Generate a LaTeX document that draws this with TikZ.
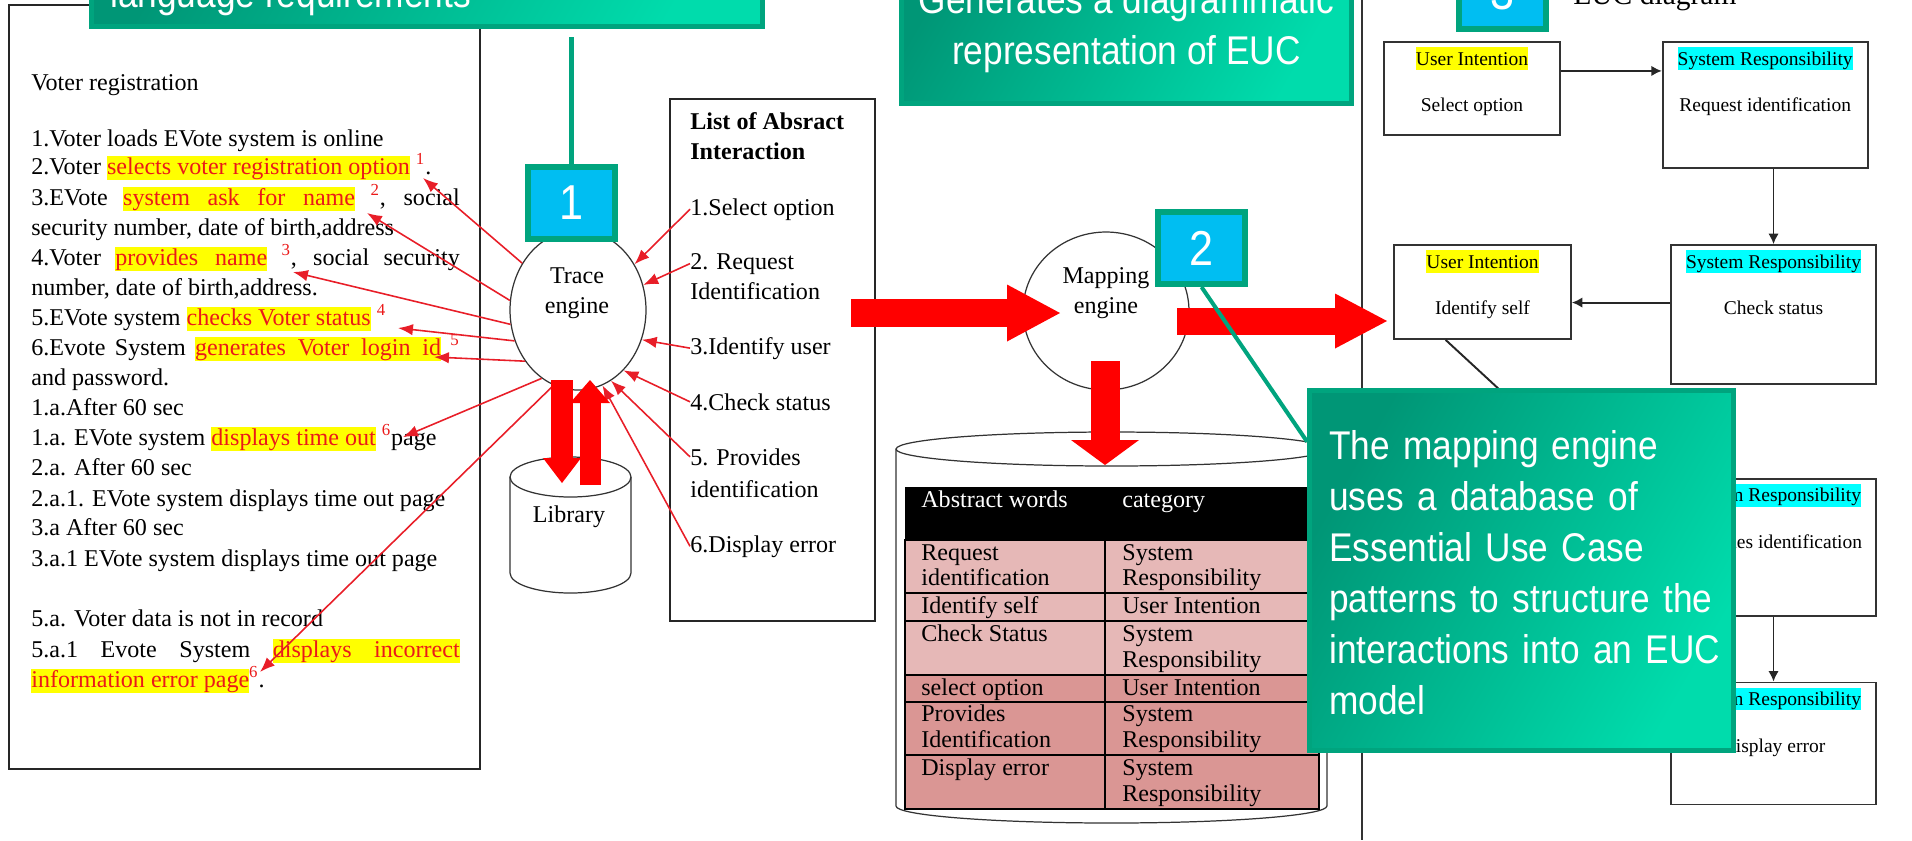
\documentclass[tikz,border=0pt]{standalone}
\usepackage{fontspec}
\setmainfont{Liberation Serif}
\newfontfamily\calloutfont{Liberation Sans}[FakeStretch=0.88]
\usetikzlibrary{shapes.geometric, arrows.meta, positioning}

\definecolor{markred}{RGB}{235,25,25}
\definecolor{hlyellow}{RGB}{255,255,0}
\definecolor{hlcyan}{RGB}{0,255,255}
\definecolor{linkred}{RGB}{232,30,40}
\definecolor{blockred}{RGB}{255,0,0}
\definecolor{calloutedge}{RGB}{0,164,126}
\definecolor{calloutdark}{RGB}{0,150,118}
\definecolor{calloutlight}{RGB}{0,220,172}
\definecolor{numblue}{RGB}{0,190,242}
\definecolor{rowlight}{RGB}{230,184,183}
\definecolor{rowdark}{RGB}{218,150,148}

\newcommand{\docsize}{\fontsize{13.7}{17}\selectfont}
\newcommand{\eucsize}{\fontsize{11.1}{26.7}\selectfont}
\newcommand{\callsize}{\calloutfont\fontsize{22.8}{29}\selectfont}
\newcommand{\numsize}{\calloutfont\fontsize{27.9}{32}\selectfont}

% marked phrase: red on yellow, optionally stretched to a width
\newcommand{\marktext}[2][]{{\setlength{\fboxsep}{0pt}\colorbox{hlyellow}{\rule[-0.25em]{0pt}{1em}\textcolor{markred}{\ifx&#1&#2\else\makebox[#1][s]{#2}\fi}}}}
\newcommand{\refmark}[1]{\textcolor{markred}{\textsuperscript{#1}}}
\newcommand{\fullline}[1]{\makebox[8.57cm][s]{#1}}
\newcommand{\hlbox}[2]{{\setlength{\fboxsep}{0pt}\colorbox{#1}{\rule[-0.25em]{0pt}{1.15em}#2}}}
\newcommand{\fullrow}[1]{\makebox[7.7cm][s]{\strut #1}}

\tikzset{
  >={Latex[length=8.5pt, width=6.5pt]}, % filled heads for the thin trace arrows
  doc text/.style={inner sep=0pt, anchor=base west, font=\docsize}, % one printed line
  plain box/.style={draw=black!85, line width=0.85pt},
  engine/.style={draw=black!80, line width=0.7pt, fill=white},
  trace link/.style={->, draw=linkred, line width=0.9pt},
  big arrow/.style n args={3}{draw=blockred, line width=#1, -{Triangle[length=#2, width=#3, line width=0pt]}},
  note box/.style={draw=calloutedge, line width=2.8pt, left color=calloutdark, right color=calloutlight, shading angle=60},
  callout text/.style={inner sep=0pt, text=white, font=\callsize},
  callout link/.style={draw=calloutedge, line width=2.3pt},
  num box/.style={draw=calloutedge, line width=3.4pt, fill=numblue, text=white, font=\numsize,
    inner sep=0pt, minimum width=1.74cm, minimum height=1.44cm},
  euc box/.style={draw=black!80, line width=1pt, fill=white, inner sep=0pt, minimum width=4.1cm},
  euc label/.style={inner sep=0pt, align=center, font=\eucsize, anchor=north, yshift=-3.4pt},
  euc link/.style={draw=black!85, line width=1.1pt, -{Latex[length=6pt, width=6pt]}},
}

\begin{document}
\begin{tikzpicture}[x=0.02cm, y=-0.02cm]
  \useasboundingbox (0,0) rectangle (1912,840);
  \clip (0,0) rectangle (1912,840);

  % the use case text
  \node[plain box, minimum width=9.42cm, minimum height=15.28cm] (voterbox) at (244.5,387) {};
  \foreach \ly/\ltxt in {
      90/{Voter registration},
      146/{1.Voter loads EVote system is online},
      174/{2.Voter \marktext{selects voter registration option} \refmark{1}.},
      205/{\fullline{3.EVote \marktext[4.64cm]{system ask for name} \refmark{2}, social}},
      235/{security number, date of birth,address},
      265/{\fullline{4.Voter \marktext[3.04cm]{provides name} \refmark{3}, social security}},
      295/{number, date of birth,address.},
      325/{5.EVote system \marktext{checks Voter status} \refmark{4}},
      355/{\fullline{6.Evote System \marktext[4.92cm]{generates Voter login id} \refmark{5}}},
      385/{and password.},
      415/{1.a.After 60 sec},
      445/{1.a. EVote system \marktext{displays time out} \refmark{6}page},
      475/{2.a. After 60 sec},
      506/{2.a.1. EVote system displays time out page},
      535/{3.a After 60 sec},
      566/{3.a.1 EVote system displays time out page},
      626/{5.a. Voter data is not in record},
      657/{\fullline{5.a.1 Evote System \marktext[3.74cm]{displays incorrect}}},
      687/{\marktext{information error page}\refmark{6}.}}
    \node[doc text] (v\ly) at (31,\ly) {\ltxt};

  \node[note box, minimum width=13.42cm, minimum height=2.13cm] (langcall) at (427,-27) {};
  \node[callout text, anchor=base west] (langtxt) at (110,7) {language requirements};

  % abstract interactions
  \node[plain box, minimum width=4.1cm, minimum height=10.44cm] (abslist) at (772.5,360) {};
  \node[doc text] (listhead) at (690,129) {\textbf{List of Absract}};
  \node[doc text] (listhead2) at (690,159) {\textbf{Interaction}};
  \node[doc text] (sel) at (690,215) {1.Select option};
  \node[doc text] (req) at (690,269) {2. Request};
  \node[doc text] (req2) at (690,299) {Identification};
  \node[doc text] (idu) at (690,354) {3.Identify user};
  \node[doc text] (chk) at (690,410) {4.Check status};
  \node[doc text] (prov) at (690,465) {5. Provides};
  \node[doc text] (prov2) at (690,497) {identification};
  \node[doc text] (disp) at (690,552) {6.Display error};

  % trace engine and library
  \draw[engine] (510,477) -- (510,573) arc[start angle=180, end angle=360, x radius=1.21cm, y radius=0.4cm]
    -- (631,477) arc[start angle=0, end angle=180, x radius=1.21cm, y radius=0.4cm] -- cycle;
  \draw[engine, fill=none] (510,477) arc[start angle=180, end angle=360, x radius=1.21cm, y radius=0.4cm];
  \node[font=\docsize, inner sep=0pt] (library) at (569,517) {Library};
  \node[engine, ellipse, minimum width=2.72cm, minimum height=3.2cm] (trace) at (578,310) {};
  \node[font=\docsize, align=center, inner sep=0pt] (tracetxt) at (577,293) {Trace\\engine};

  \coordinate (m1) at (423,178);
  \coordinate (m2) at (367,213);
  \coordinate (m3) at (293,272);
  \coordinate (m4) at (398,328);
  \coordinate (m5) at (434,357);
  \coordinate (m6) at (403,437);
  \coordinate (m7) at (260,672);
  \foreach \ang/\tgt in {140/m1, 172/m2, 192/m3, 206/m4, 224/m5, 242/m6, 252/m7}
    \draw[trace link] (trace.\ang) -- (\tgt);
  \foreach \src/\ang in {sel/39, req/21, idu/335, chk/307, prov/295, disp/288}
    \draw[trace link] (\src.west) -- (trace.\ang);

  \coordinate (libin) at (562,380);
  \coordinate (libtip) at (562,483);
  \coordinate (libout) at (590,485);
  \coordinate (tracetip) at (590,380);
  \draw[big arrow={0.44cm}{0.5cm}{0.76cm}] (libin) -- (libtip);
  \draw[big arrow={0.42cm}{0.46cm}{0.8cm}] (libout) -- (tracetip);

  \node[num box] (num1) at (571.5,203) {1};
  \draw[callout link, shorten <=5pt] (num1.north |- langcall.south) -- (num1.north);

  % mapping engine and its database
  \node[engine, ellipse, minimum width=3.32cm, minimum height=3.16cm] (mapping) at (1106,311) {};
  \node[font=\docsize, align=center, inner sep=0pt] (maptxt) at (1106,293) {Mapping\\engine};
  \draw[engine] (896,449) -- (896,806) arc[start angle=180, end angle=360, x radius=4.31cm, y radius=0.34cm]
    -- (1327,449) arc[start angle=0, end angle=180, x radius=4.31cm, y radius=0.34cm] -- cycle;
  \draw[engine, fill=none] (896,449) arc[start angle=180, end angle=360, x radius=4.31cm, y radius=0.34cm];

  \fill[black] (905,487) rectangle (1319,540);
  \fill[rowlight] (905,540) rectangle (1319,675);
  \fill[rowdark] (905,675) rectangle (1319,809);
  \draw[line width=0.9pt] (905,540) rectangle (1319,809);
  \foreach \ry in {593,621,675,702,755}
    \draw[line width=0.9pt] (905,\ry) -- (1319,\ry);
  \draw[line width=0.9pt] (1105,540) -- (1105,809);
  \node[doc text, text=white] (hwords) at (921,507) {Abstract words};
  \node[doc text, text=white] (hcat) at (1122,507) {category};
  \foreach \ry/\rtxt in {560/Request, 585/identification, 613/Identify self, 641/Check Status,
      695/select option, 721/Provides, 747/Identification, 775/Display error}
    \node[doc text] (wa\ry) at (921,\ry) {\rtxt};
  \foreach \ry/\rtxt in {560/System, 585/Responsibility, 613/User Intention, 641/System,
      667/Responsibility, 695/User Intention, 721/System, 747/Responsibility, 775/System, 801/Responsibility}
    \node[doc text] (ca\ry) at (1122,\ry) {\rtxt};

  \coordinate (tomap) at (851,313);
  \coordinate (maptip) at (1060,313);
  \draw[big arrow={0.56cm}{1.06cm}{1.14cm}] (tomap) -- (maptip);
  \coordinate (todb) at (1105,361);
  \coordinate (dbtip) at (1105,465);
  \draw[big arrow={0.58cm}{0.5cm}{1.36cm}] (todb) -- (dbtip);

  % EUC diagram
  \draw[black!80, line width=1pt] (1362,0) -- (1362,840);
  \node[inner sep=0pt, anchor=base west, font=\fontsize{16.8}{20}\selectfont] (euctitle) at (1573,4) {EUC diagram};

  \node[euc box, minimum width=3.52cm, minimum height=1.86cm,
    label={[euc label]north:{\hlbox{hlyellow}{User Intention}\\Select option}}] (eucA) at (1472,88.5) {};
  \node[euc box, minimum height=2.52cm, right=2.02cm of eucA.north east, anchor=north west,
    label={[euc label]north:{\hlbox{hlcyan}{System Responsibility}\\Request identification}}] (eucB) {};
  \node[euc box, minimum width=3.54cm, minimum height=1.88cm,
    label={[euc label]north:{\hlbox{hlyellow}{User Intention}\\Identify self}}] (eucC) at (1482.5,292) {};
  \node[euc box, minimum height=2.78cm,
    label={[euc label]north:{\hlbox{hlcyan}{System Responsibility}\\Check status}}] (eucD) at (1773.5,314.5) {};
  \node[euc box, minimum height=2.74cm, below=1.86cm of eucD,
    label={[euc label]north:{\hlbox{hlcyan}{System Responsibility}\\Provides identification}}] (eucE) {};
  \node[euc box, minimum height=2.44cm, below=1.3cm of eucE,
    label={[euc label]north:{\hlbox{hlcyan}{System Responsibility}\\Display error}}] (eucF) {};

  \draw[euc link] ([yshift=10pt]eucA.east) -- ([yshift=10pt]eucA.east -| eucB.west);
  \draw[euc link] (eucB.south -| eucD.north) -- (eucD.north);
  \draw[euc link] ([yshift=-6pt]eucD.west |- eucC.east) -- ([yshift=-6pt]eucC.east);
  \draw[euc link] ([xshift=-21pt]eucC.south) -- (eucE.west);
  \draw[euc link] (eucE.south) -- (eucF.north);

  \coordinate (toeuc) at (1177,321);
  \coordinate (euctip) at (1387,321);
  \draw[big arrow={0.54cm}{1.04cm}{1.1cm}] (toeuc) -- (euctip);

  \node[num box] (num2) at (1201.5,248) {2};
  \node[num box] (num3) at (1502,-7) {3};

  % callouts
  \node[note box, minimum width=8.48cm, minimum height=7.2cm] (euccall) at (1521.5,570.5) {};
  \draw[callout link] (num2.south) -- (euccall.149);
  \node[callout text, text width=7.7cm, anchor=north west] (euctxt) at (1329,423.3) {%
    \fullrow{The mapping engine}\\
    \fullrow{uses a database of}\\
    \fullrow{Essential Use Case}\\
    \fullrow{patterns to structure the}\\
    \fullrow{interactions into an EUC}\\
    \strut model};

  \node[note box, minimum width=9cm, minimum height=3.67cm] (gencall) at (1126.5,11.75) {};
  \node[callout text, align=center, anchor=north] (gentxt) at (1126.5,-22.7)
    {\strut Generates a diagrammatic\\\strut representation of EUC};
\end{tikzpicture}
\end{document}
